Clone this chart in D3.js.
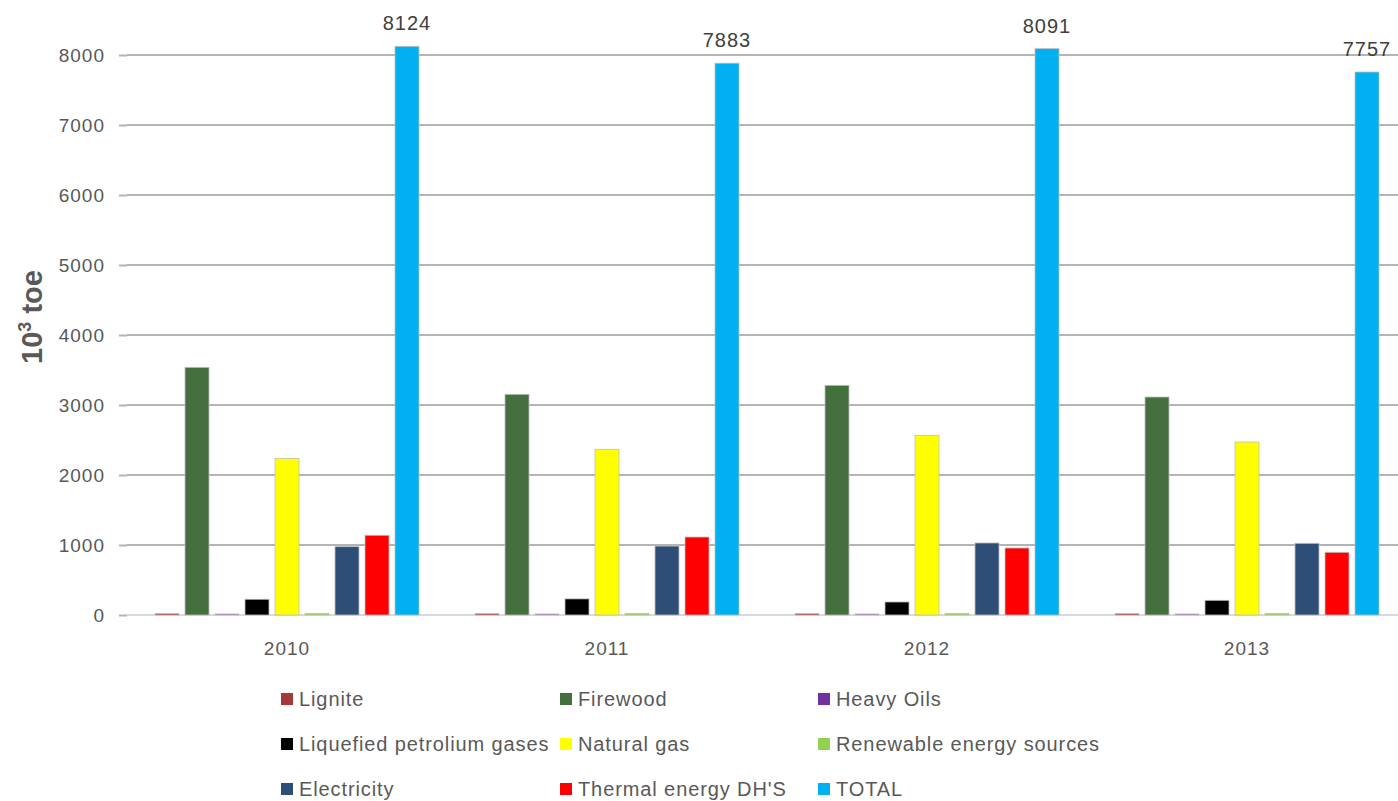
<!DOCTYPE html>
<html>
<head>
<meta charset="utf-8">
<script src="https://cdn.jsdelivr.net/npm/d3@7"></script>
<style>
  body { margin: 0; background: #fff; }
  text { font-family: "Liberation Sans", Arial, sans-serif; }
</style>
</head>
<body>
<svg id="chart" width="1398" height="801"></svg>
<script>

const years = ["2010", "2011", "2012", "2013"]
const series = ["Lignite", "Firewood", "Heavy Oils", "Liquefied petrolium gases", "Natural gas",
  "Renewable energy sources", "Electricity", "Thermal energy DH'S", "TOTAL"]
const colors = ["#a5393a", "#44703d", "#7030a0", "#000000", "#ffff00",
  "#92d050", "#2e4e78", "#ff0000", "#00b0f0"]

// values per series, one entry per year
const lignite = [20, 20, 20, 20]
const firewood = [3538, 3153, 3281, 3114]
const heavyOils = [15, 15, 15, 15]
const lpg = [225, 230, 186, 210]
const naturalGas = [2238, 2367, 2567, 2471]
const renewables = [20, 20, 20, 20]
const electricity = [976, 985, 1029, 1024]
const thermal = [1139, 1114, 957, 896]
const total = [8124, 7883, 8091, 7757]

const yTicks = [0, 1000, 2000, 3000, 4000, 5000, 6000, 7000, 8000]

const values = [lignite, firewood, heavyOils, lpg, naturalGas, renewables, electricity, thermal, total]

let svg = d3.select("#chart")

let x0 = d3.scaleBand().domain(years).range([127, 1407])
let x1 = d3.scaleBand().domain(series).range([22, 298]).padding(0.2)
let y = d3.scaleLinear().domain([0, 8000]).range([615, 55])

// gridlines
svg.append("g")
  .selectAll("line")
  .data(yTicks.filter(d => d > 0))
  .enter().append("line")
  .attr("x1", 127).attr("x2", 1398)
  .attr("y1", d => y(d)).attr("y2", d => y(d))
  .attr("stroke", "#b4b4b4")
  .attr("stroke-width", 2)

// y axis labels + small tick marks
let yAxis = svg.append("g")
  .attr("transform", "translate(127,0)")
  .call(d3.axisLeft(y).tickValues(yTicks).tickSize(8).tickPadding(14).tickFormat(d3.format("d")))
yAxis.select(".domain").remove()
yAxis.selectAll(".tick line").attr("stroke", "#b4b4b4").attr("stroke-width", 2)
yAxis.selectAll(".tick text")
  .attr("fill", "#595959")
  .style("font-size", "19px")
  .style("letter-spacing", "1px")

// baseline
svg.append("line")
  .attr("x1", 127).attr("x2", 1398)
  .attr("y1", y(0)).attr("y2", y(0))
  .attr("stroke", "#d9d9d9")
  .attr("stroke-width", 2)

// bars
let groups = svg.append("g")
  .selectAll("g")
  .data(years)
  .enter().append("g")
  .attr("transform", d => "translate(" + x0(d) + ",0)")

groups.selectAll("rect")
  .data((yr, i) => series.map((s, j) => ({ s: s, j: j, v: values[j][i] })))
  .enter().append("rect")
  .attr("x", d => x1(d.s))
  .attr("width", x1.bandwidth())
  .attr("y", d => y(d.v))
  .attr("height", d => y(0) - y(d.v))
  .attr("fill", d => colors[d.j])
  .attr("stroke", "#bfbfbf")
  .attr("stroke-width", 0.8)

// total labels
groups.append("text")
  .attr("x", x1("TOTAL") + x1.bandwidth() / 2)
  .attr("y", (d, i) => y(total[i]) - 16)
  .attr("text-anchor", "middle")
  .attr("fill", "#404040")
  .style("font-size", "20px")
  .style("letter-spacing", "1px")
  .text((d, i) => total[i])

// x labels
svg.append("g")
  .selectAll("text")
  .data(years)
  .enter().append("text")
  .attr("x", d => x0(d) + x0.bandwidth() / 2)
  .attr("y", 655)
  .attr("text-anchor", "middle")
  .attr("fill", "#595959")
  .style("font-size", "19px")
  .style("letter-spacing", "1px")
  .text(d => d)

// y title
svg.append("text")
  .attr("transform", "translate(42,317) rotate(-90)")
  .attr("text-anchor", "middle")
  .attr("fill", "#595959")
  .style("font-size", "29px")
  .style("font-weight", "bold")
  .html("10<tspan dy='-11' font-size='18px'>3</tspan><tspan dy='11'> toe</tspan>")

// legend
let legX = [281, 560, 818]
let legY = [699, 744, 789]
let legend = svg.append("g")
  .selectAll("g")
  .data(series)
  .enter().append("g")
  .attr("transform", (d, i) => "translate(" + legX[i % 3] + "," + legY[Math.floor(i / 3)] + ")")

legend.append("rect")
  .attr("x", 0).attr("y", -6)
  .attr("width", 12).attr("height", 12)
  .attr("fill", (d, i) => colors[i])

legend.append("text")
  .attr("x", 18).attr("y", 7)
  .attr("fill", "#595959")
  .style("font-size", "20px")
  .style("letter-spacing", "0.9px")
  .text(d => d)

</script>
</body>
</html>
